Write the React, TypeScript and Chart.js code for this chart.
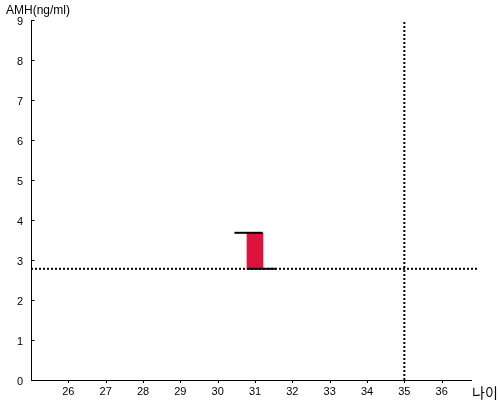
import React, { useEffect, useRef } from "react";
import { Chart, registerables } from "chart.js";

Chart.register(...registerables);

const xMin = 25;
const xMax = 37;
const yMin = 0;
const yMax = 9;
const yTitle = "AMH(ng/ml)";
const xTitle = "나이";

const barAge = 31;
const barLow = 2.78;
const barHigh = 3.68;
const topCap = [
  { x: 30.45, y: 3.68 },
  { x: 31.2, y: 3.68 },
];
const bottomCap = [
  { x: 30.78, y: 2.78 },
  { x: 31.57, y: 2.78 },
];
const refLevel = 2.78;
const refAge = 35;

const FONT = "'Liberation Sans', Arial, sans-serif";

export default function App() {
  const ref = useRef<HTMLCanvasElement | null>(null);
  useEffect(() => {
    document.body.style.margin = "0";
    const canvas = ref.current!;
    const textPlugin = {
      id: "texts",
      afterDraw(chart: any) {
        const ctx = chart.ctx;
        const { left, bottom } = chart.chartArea;
        const ys = chart.scales.y;
        const xs = chart.scales.x;
        ctx.save();
        ctx.strokeStyle = "#000";
        ctx.lineWidth = 1;
        // inner y ticks
        ys.ticks.forEach((t: any) => {
          const py = Math.round(ys.getPixelForValue(t.value)) + 0.5;
          ctx.beginPath();
          ctx.moveTo(left, py);
          ctx.lineTo(left + 3.5, py);
          ctx.stroke();
        });
        // small x ticks below the axis
        xs.ticks.forEach((t: any) => {
          const px = Math.round(xs.getPixelForValue(t.value)) + 0.5;
          ctx.beginPath();
          ctx.moveTo(px, bottom);
          ctx.lineTo(px, bottom + 3);
          ctx.stroke();
        });
        // label area on the right of the x axis
        ctx.fillStyle = "#fff";
        ctx.fillRect(472, bottom - 2, 28, 22);
        ctx.fillStyle = "#000";
        ctx.font = `12px ${FONT}`;
        ctx.textAlign = "left";
        ctx.textBaseline = "middle";
        ctx.fillText(yTitle, 6, 11);
        ctx.font = `14px 'Noto Sans CJK KR', sans-serif`;
        ctx.textAlign = "left";
        ctx.fillText(xTitle, 472, bottom + 13);
        ctx.restore();
      },
    };
    const chart = new Chart(canvas, {
      type: "bar",
      data: {
        datasets: [
          {
            type: "line",
            data: [
              { x: xMin, y: refLevel },
              { x: xMax, y: refLevel },
            ],
            borderColor: "#000",
            borderWidth: 2,
            borderDash: [2, 2],
            pointRadius: 0,
            order: 5,
          } as any,
          {
            type: "line",
            data: [
              { x: refAge, y: yMin },
              { x: refAge, y: yMax },
            ],
            borderColor: "#000",
            borderWidth: 2,
            borderDash: [2, 2],
            pointRadius: 0,
            order: 5,
          } as any,
          {
            type: "bar",
            data: [{ x: barAge, y: [barLow, barHigh] }],
            backgroundColor: "#DC143C",
            borderWidth: 0,
            barThickness: 16,
            order: 3,
          } as any,
          {
            type: "line",
            data: topCap,
            borderColor: "#000",
            borderWidth: 2,
            pointRadius: 0,
            order: 1,
          } as any,
          {
            type: "line",
            data: bottomCap,
            borderColor: "#000",
            borderWidth: 2,
            pointRadius: 0,
            order: 1,
          } as any,
        ],
      },
      options: {
        responsive: false,
        animation: false,
        layout: { padding: { top: 20, right: 21, left: 0, bottom: 0 } },
        plugins: { legend: { display: false }, tooltip: { enabled: false } },
        scales: {
          x: {
            type: "linear",
            min: xMin,
            max: xMax,
            offset: false,
            afterBuildTicks(scale: any) {
              scale.ticks = scale.ticks.filter(
                (t: any) => t.value > xMin && t.value < xMax
              );
            },
            afterFit(scale: any) {
              scale.height = 20;
            },
            ticks: {
              stepSize: 1,
              color: "#000",
              padding: 5,
              font: { family: FONT, size: 11 },
              maxRotation: 0,
            },
            grid: {
              display: true,
              offset: false,
              drawOnChartArea: false,
              drawTicks: false,
              color: "#000",
            },
            border: { display: true, color: "#000", width: 1 },
          },
          y: {
            type: "linear",
            min: yMin,
            max: yMax,
            afterFit(scale: any) {
              scale.width = 31;
            },
            ticks: {
              stepSize: 1,
              color: "#000",
              padding: 8,
              labelOffset: 2,
              font: { family: FONT, size: 11 },
            },
            grid: {
              display: true,
              offset: false,
              drawOnChartArea: false,
              drawTicks: false,
              color: "#000",
            },
            border: { display: true, color: "#000", width: 1 },
          },
        },
      } as any,
      plugins: [textPlugin],
    });
    return () => chart.destroy();
  }, []);
  return (
    <canvas
      ref={ref}
      width={500}
      height={400}
      style={{ display: "block", width: 500, height: 400 }}
    />
  );
}
